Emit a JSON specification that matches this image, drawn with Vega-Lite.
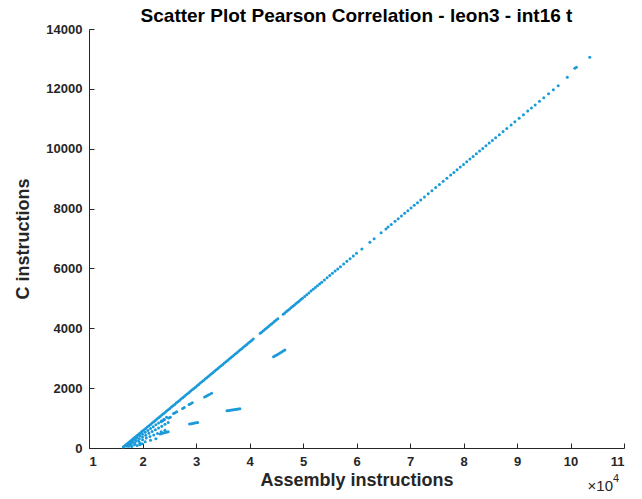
{
  "$schema": "https://vega.github.io/schema/vega-lite/v6.json",
  "width": 535,
  "height": 419,
  "autosize": {"type": "none"},
  "padding": {"left": 89, "top": 29, "right": 18, "bottom": 51},
  "background": "white",
  "config": {
    "view": {"stroke": null},
    "font": "Liberation Sans",
    "axis": {
      "domainColor": "#262626",
      "tickColor": "#262626",
      "labelColor": "#262626",
      "titleColor": "#262626",
      "labelFont": "Liberation Sans",
      "titleFont": "Liberation Sans",
      "labelFontSize": 13,
      "labelFontWeight": "bold",
      "titleFontSize": 18,
      "titleFontWeight": "bold",
      "grid": false,
      "tickSize": -5,
      "domainWidth": 1,
      "tickWidth": 1
    }
  },
  "title": {
    "text": "Scatter Plot Pearson Correlation - leon3 - int16 t",
    "font": "Liberation Sans",
    "fontSize": 19,
    "fontWeight": "bold",
    "color": "#000000",
    "anchor": "middle",
    "offset": -3
  },
  "datasets": {
    "pts": [
      {"x":16400,"y":30},{"x":16600,"y":59},{"x":16800,"y":89},{"x":17000,"y":119},{"x":17200,"y":149},{"x":17400,"y":178},{"x":17600,"y":208},{"x":17800,"y":238},{"x":18000,"y":267},{"x":18200,"y":297},{"x":18400,"y":327},{"x":18600,"y":356},{"x":18800,"y":386},{"x":19000,"y":416},{"x":19200,"y":446},{"x":19400,"y":475},{"x":19600,"y":505},{"x":19800,"y":535},{"x":20000,"y":564},{"x":20300,"y":609},{"x":20600,"y":653},{"x":20900,"y":698},{"x":21200,"y":743},{"x":21500,"y":787},{"x":21800,"y":832},{"x":22100,"y":876},{"x":22400,"y":921},{"x":22700,"y":965},{"x":23000,"y":1010},{"x":23300,"y":1054},{"x":23600,"y":1099},{"x":23900,"y":1143},{"x":24200,"y":1188},{"x":24500,"y":1233},{"x":24800,"y":1277},{"x":25100,"y":1322},{"x":25400,"y":1366},{"x":25700,"y":1411},{"x":26000,"y":1455},{"x":26300,"y":1500},{"x":26600,"y":1544},{"x":26900,"y":1589},{"x":27200,"y":1634},{"x":27500,"y":1678},{"x":27800,"y":1723},{"x":28100,"y":1767},{"x":28400,"y":1812},{"x":28700,"y":1856},{"x":29000,"y":1901},{"x":29300,"y":1945},{"x":29600,"y":1990},{"x":29900,"y":2034},{"x":30200,"y":2079},{"x":30500,"y":2124},{"x":30800,"y":2168},{"x":31100,"y":2213},{"x":31400,"y":2257},{"x":31700,"y":2302},{"x":32000,"y":2346},{"x":32300,"y":2391},{"x":32600,"y":2435},{"x":32900,"y":2480},{"x":33200,"y":2525},{"x":33500,"y":2569},{"x":33800,"y":2614},{"x":34100,"y":2658},{"x":34400,"y":2703},{"x":34700,"y":2747},{"x":35000,"y":2792},{"x":35300,"y":2836},{"x":35600,"y":2881},{"x":35900,"y":2925},{"x":36200,"y":2970},{"x":36500,"y":3015},{"x":36800,"y":3059},{"x":37100,"y":3104},{"x":37400,"y":3148},{"x":37700,"y":3193},{"x":38000,"y":3237},{"x":38300,"y":3282},{"x":38600,"y":3326},{"x":38900,"y":3371},{"x":39200,"y":3416},{"x":39500,"y":3460},{"x":39800,"y":3505},{"x":40100,"y":3549},{"x":40400,"y":3594},{"x":40700,"y":3638},
      {"x":42000,"y":3831},{"x":42300,"y":3876},{"x":42600,"y":3920},{"x":42900,"y":3965},{"x":43200,"y":4010},{"x":43500,"y":4054},{"x":43800,"y":4099},{"x":44100,"y":4143},{"x":44400,"y":4188},{"x":44700,"y":4232},{"x":45000,"y":4277},{"x":45300,"y":4321},
      {"x":46300,"y":4470},{"x":46600,"y":4514},{"x":46900,"y":4559},{"x":47200,"y":4603},{"x":47500,"y":4648},{"x":47800,"y":4693},{"x":48100,"y":4737},{"x":48400,"y":4782},{"x":48700,"y":4826},{"x":49000,"y":4871},{"x":49300,"y":4915},{"x":49600,"y":4960},{"x":49900,"y":5004},{"x":50300,"y":5064},{"x":50700,"y":5123},{"x":51100,"y":5183},{"x":51500,"y":5242},{"x":51900,"y":5301},{"x":52300,"y":5361},{"x":52700,"y":5420},{"x":53100,"y":5480},{"x":53500,"y":5539},{"x":54000,"y":5613},{"x":54500,"y":5688},{"x":55000,"y":5762},{"x":55500,"y":5836},{"x":56000,"y":5910},{"x":56500,"y":5985},{"x":57000,"y":6059},{"x":57600,"y":6148},{"x":58200,"y":6237},{"x":58800,"y":6326},{"x":59400,"y":6415},{"x":60000,"y":6504},{"x":61000,"y":6653},{"x":62500,"y":6876},{"x":63300,"y":6994},{"x":64600,"y":7188},{"x":65500,"y":7321},{"x":65900,"y":7381},
      {"x":66500,"y":7470},{"x":67200,"y":7574},{"x":67800,"y":7663},{"x":68400,"y":7752},{"x":69000,"y":7841},{"x":69600,"y":7930},{"x":70200,"y":8019},{"x":70800,"y":8108},{"x":71400,"y":8197},{"x":72000,"y":8286},{"x":72700,"y":8390},{"x":73400,"y":8494},{"x":74100,"y":8598},{"x":74800,"y":8702},{"x":75500,"y":8806},{"x":76200,"y":8910},{"x":76900,"y":9014},{"x":77600,"y":9118},{"x":78200,"y":9207},{"x":78800,"y":9296},{"x":79400,"y":9385},{"x":80000,"y":9474},{"x":80600,"y":9563},{"x":81200,"y":9653},{"x":81800,"y":9742},{"x":82400,"y":9831},{"x":83000,"y":9920},{"x":83600,"y":10009},{"x":84200,"y":10098},{"x":84800,"y":10187},{"x":85400,"y":10276},{"x":86000,"y":10366},{"x":86700,"y":10469},{"x":87400,"y":10573},{"x":88100,"y":10677},{"x":88900,"y":10796},{"x":89600,"y":10900},{"x":90400,"y":11019},{"x":91200,"y":11137},{"x":92000,"y":11256},{"x":92700,"y":11360},{"x":93400,"y":11464},{"x":94200,"y":11583},{"x":95000,"y":11702},{"x":95900,"y":11835},{"x":96800,"y":11969},{"x":97700,"y":12103},{"x":99400,"y":12390},{"x":100800,"y":12690},{"x":101100,"y":12720},{"x":103600,"y":13055},
      {"x":17000,"y":88},{"x":17500,"y":150},{"x":18000,"y":213},{"x":18500,"y":275},{"x":19000,"y":338},{"x":19500,"y":400},{"x":20000,"y":463},{"x":20500,"y":525},{"x":21000,"y":588},{"x":21500,"y":650},{"x":22000,"y":713},{"x":22500,"y":775},{"x":23000,"y":838},{"x":23500,"y":900},{"x":24000,"y":963},{"x":24500,"y":1025},
      {"x":17000,"y":70},{"x":17600,"y":130},{"x":18200,"y":190},{"x":18800,"y":250},{"x":19400,"y":310},{"x":20000,"y":370},{"x":20600,"y":430},{"x":21200,"y":490},{"x":21800,"y":550},{"x":22400,"y":610},{"x":23000,"y":670},{"x":23600,"y":730},{"x":24200,"y":790},{"x":24800,"y":850},
      {"x":17200,"y":68},{"x":17900,"y":120},{"x":18600,"y":173},{"x":19300,"y":225},{"x":20000,"y":278},{"x":20700,"y":330},{"x":21400,"y":383},{"x":22100,"y":435},{"x":22800,"y":488},{"x":23500,"y":540},{"x":24200,"y":593},
      {"x":17500,"y":60},{"x":18500,"y":110},{"x":19500,"y":160},{"x":20500,"y":210},{"x":21500,"y":260},{"x":22500,"y":310},
      {"x":18000,"y":50},{"x":19000,"y":80},{"x":19500,"y":110},{"x":19900,"y":140},
      {"x":25800,"y":1150},{"x":26100,"y":1180},{"x":26400,"y":1210},{"x":27500,"y":1320},{"x":27800,"y":1350},{"x":28700,"y":1450},{"x":29000,"y":1480},{"x":29300,"y":1510},{"x":31600,"y":1700},{"x":31900,"y":1730},{"x":32200,"y":1760},{"x":32500,"y":1790},{"x":32900,"y":1830},
      {"x":44500,"y":3050},{"x":44800,"y":3080},{"x":45100,"y":3110},{"x":45400,"y":3140},{"x":45700,"y":3175},{"x":46000,"y":3210},{"x":46300,"y":3240},{"x":46600,"y":3275},
      {"x":35800,"y":1245},{"x":36100,"y":1252},{"x":36400,"y":1260},{"x":36700,"y":1268},{"x":37000,"y":1276},{"x":37300,"y":1284},{"x":37600,"y":1292},{"x":37900,"y":1300},{"x":38200,"y":1310},
      {"x":28800,"y":800},{"x":29100,"y":810},{"x":29400,"y":822},{"x":29700,"y":834},{"x":30000,"y":845},{"x":30300,"y":856},
      {"x":23300,"y":470},{"x":23600,"y":485},{"x":23900,"y":500},{"x":24200,"y":515},{"x":24500,"y":530},{"x":24800,"y":545},
      {"x":23500,"y":880},{"x":23800,"y":910},{"x":24100,"y":940},{"x":24900,"y":1000},{"x":25200,"y":1030}
    ],
    "note": [{"x": 110000, "y": 0, "base": "×10", "exp": "4"}]
  },
  "layer": [
    {
      "data": {"name": "pts"},
      "mark": {"type": "point", "filled": true, "size": 9, "color": "#1a9ad9", "opacity": 1},
      "encoding": {
        "x": {
          "field": "x", "type": "quantitative",
          "scale": {"domain": [10000, 110000], "nice": false, "zero": false},
          "axis": {
            "title": "Assembly instructions",
            "values": [10000,20000,30000,40000,50000,60000,70000,80000,90000,100000,110000],
            "labelExpr": "format(datum.value/10000, 'd')",
            "labelPadding": 12,
            "titlePadding": 3
          }
        },
        "y": {
          "field": "y", "type": "quantitative",
          "scale": {"domain": [0, 14000], "nice": false},
          "axis": {
            "title": "C instructions",
            "values": [0,2000,4000,6000,8000,10000,12000,14000],
            "format": "d",
            "labelPadding": 12,
            "titlePadding": 13
          }
        }
      }
    },
    {
      "data": {"name": "note"},
      "mark": {"type": "text", "align": "right", "baseline": "top", "dy": 31, "dx": -11, "fontSize": 15, "color": "#262626", "font": "Liberation Sans"},
      "encoding": {
        "x": {"field": "x", "type": "quantitative"},
        "y": {"field": "y", "type": "quantitative"},
        "text": {"field": "base"}
      }
    },
    {
      "data": {"name": "note"},
      "mark": {"type": "text", "align": "left", "baseline": "top", "dy": 25, "dx": -11, "fontSize": 11, "color": "#262626", "font": "Liberation Sans"},
      "encoding": {
        "x": {"field": "x", "type": "quantitative"},
        "y": {"field": "y", "type": "quantitative"},
        "text": {"field": "exp"}
      }
    }
  ]
}
